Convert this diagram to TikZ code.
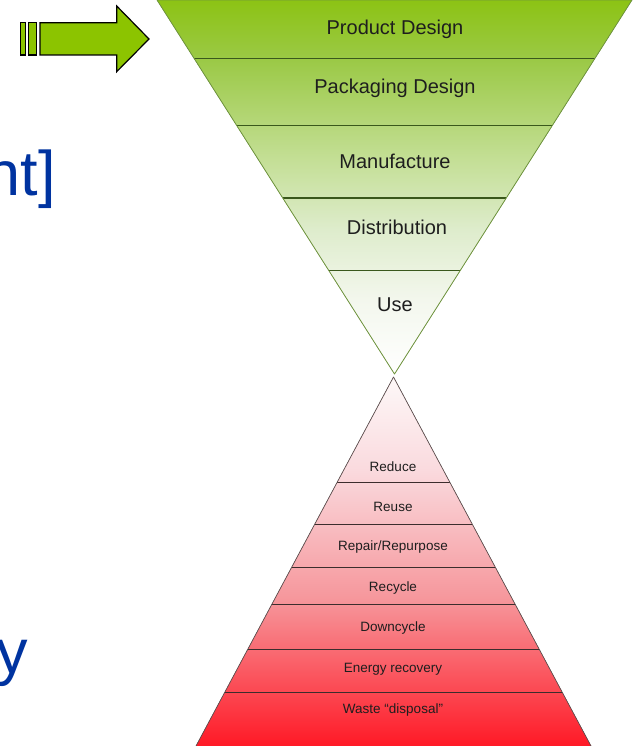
\documentclass[tikz,border=0pt]{standalone}
\usepackage{fontspec}
\setmainfont{Liberation Sans}
\usetikzlibrary{calc}
\definecolor{gA}{RGB}{140,195,20}
\definecolor{gB}{RGB}{155,201,70}
\definecolor{gC}{RGB}{196,223,150}
\definecolor{gD}{RGB}{222,236,204}
\definecolor{gE}{RGB}{243,247,237}
\definecolor{rA}{RGB}{253,248,248}
\definecolor{rB}{RGB}{250,218,222}
\definecolor{rC}{RGB}{246,150,155}
\definecolor{rD}{RGB}{255,25,38}
\definecolor{arrowgreen}{RGB}{140,196,0}
\definecolor{titleblue}{RGB}{0,51,160}
\definecolor{greenedge}{RGB}{112,150,62}
\definecolor{greensep}{RGB}{58,88,28}
\definecolor{rededge}{RGB}{95,80,80}
\definecolor{redsep}{RGB}{60,45,45}
\definecolor{labeltext}{RGB}{30,30,30}
\pgfdeclareverticalshading{greenfade}{100bp}{color(0bp)=(white); color(25bp)=(white); color(35bp)=(gE); color(44.3bp)=(gD); color(53.6bp)=(gC); color(67bp)=(gB); color(75bp)=(gA); color(100bp)=(gA)}
\pgfdeclareverticalshading{redfade}{100bp}{color(0bp)=(rD); color(25bp)=(rD); color(44.8bp)=(rC); color(62.4bp)=(rB); color(75bp)=(rA); color(100bp)=(rA)}
\tikzset{
  toplabel/.style={inner sep=0pt, font=\fontsize{20}{23}\selectfont, text=labeltext},
  botlabel/.style={inner sep=0pt, font=\fontsize{13.5}{16}\selectfont, text=labeltext},
  bluetext/.style={inner sep=0pt, font=\fontsize{63}{72}\selectfont, text=titleblue},
  greensepline/.style={draw=greensep, line width=1.1pt},
  redsepline/.style={draw=redsep, line width=0.9pt},
  arrowpart/.style={fill=arrowgreen, draw=black, line width=1.2pt, line join=miter}
}
\begin{document}
\begin{tikzpicture}[x=1pt,y=-1pt]
\useasboundingbox (0,0) rectangle (636,746);
% inverted triangle
\coordinate (A) at (157,0);
\coordinate (B) at (632,0);
\coordinate (T) at (394.5,374);
\fill[shading=greenfade] (A) -- (B) -- (T) -- cycle;
\foreach \yy in {58.5,125.5,198,270.5}{
  \draw[greensepline] ($(A)!{\yy/374}!(T)$) -- ($(B)!{\yy/374}!(T)$);
}
\draw[draw=greenedge, line width=0.8pt, line join=round] (A) -- (B) -- (T) -- cycle;
% pyramid
\coordinate (P) at (393.5,377);
\coordinate (L) at (196,746);
\coordinate (R) at (591,746);
\fill[shading=redfade] (P) -- (R) -- (L) -- cycle;
\foreach \yy in {482,524,567,604,649,692}{
  \draw[redsepline] ($(P)!{(\yy-377)/369}!(L)$) -- ($(P)!{(\yy-377)/369}!(R)$);
}
\draw[draw=rededge, line width=0.7pt, line join=round] (L) -- (P) -- (R);
% top labels
\node[toplabel] (pd) at (395,29) {Product Design};
\node[toplabel] (pkd) at (395,88) {Packaging Design};
\node[toplabel] (man) at (395,161) {Manufacture};
\node[toplabel] (dis) at (397,227) {Distribution};
\node[toplabel] (use) at (395,305) {Use};
% bottom labels
\node[botlabel] (red) at (393,467) {Reduce};
\node[botlabel] (reu) at (393,507) {Reuse};
\node[botlabel] (rep) at (393,547) {Repair/Repurpose};
\node[botlabel] (rec) at (393,588) {Recycle};
\node[botlabel] (dow) at (393,628) {Downcycle};
\node[botlabel] (ene) at (393,669) {Energy recovery};
\node[botlabel] (was) at (393,710) {Waste “disposal”};
% arrow
\draw[arrowpart] (20.7,22.7) rectangle (25.3,55);
\draw[arrowpart] (28.3,22.7) rectangle (36.7,55);
\draw[arrowpart] (40,22.7) -- (116.7,22.7) -- (116.7,6) -- (149,39) -- (116.7,71.7) -- (116.7,55) -- (40,55) -- cycle;
% blue fragments
\node[bluetext, anchor=base east] (frag1) at (56,195) {nt]};
\node[bluetext, anchor=base east] (frag2) at (28,673) {y};
\end{tikzpicture}
\end{document}
